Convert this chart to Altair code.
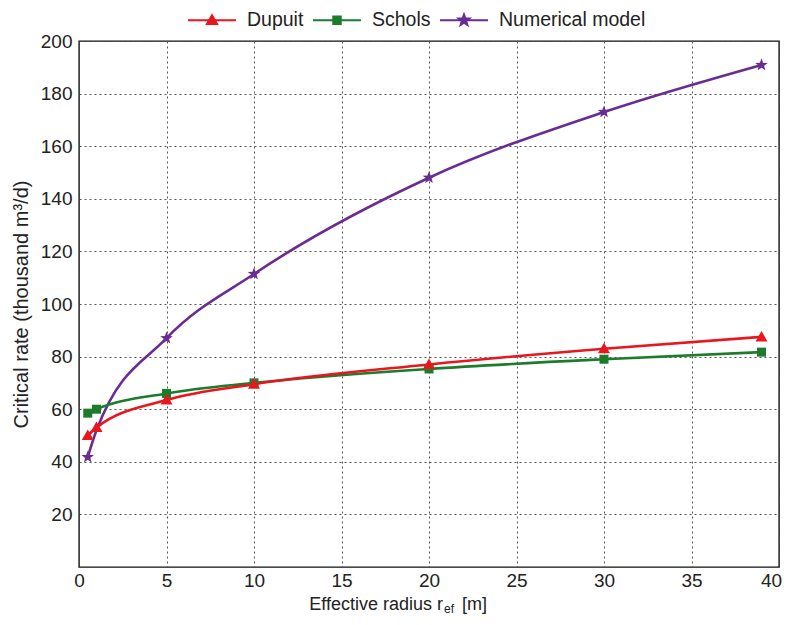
import altair as alt
import pandas as pd
import numpy as np

# ---- data ----
series_names = ["Dupuit", "Schols", "Numerical model"]
radius = [0.5, 1, 5, 10, 20, 30, 39]
dupuit = [50, 53, 63.5, 69.5, 77, 83, 87.5]
schols = [58.5, 60, 66, 70, 75.3, 79, 81.7]
# numerical model: markers at these radii ...
num_radius = [0.5, 5, 10, 20, 30, 39]
numerical = [41.8, 87, 111.4, 148, 173, 190.9]
# ... and the curve also passes through (1, 52) (no marker there)
num_curve_radius = [0.5, 1, 5, 10, 20, 30, 39]
num_curve = [41.8, 52, 87, 111.4, 148, 173, 190.9]
x_ticks = [0, 5, 10, 15, 20, 25, 30, 35, 40]
y_ticks = [20, 40, 60, 80, 100, 120, 140, 160, 180, 200]
colors = ["#e8161d", "#1d7c2c", "#6a2c92"]

line_rows, pt_rows = [], []
for r, v in zip(num_curve_radius, num_curve):
    line_rows.append({"series": "Numerical model", "r": r, "q": v})
for r, v in zip(num_radius, numerical):
    pt_rows.append({"series": "Numerical model", "r": r, "q": v})
for r, v in zip(radius, schols):
    line_rows.append({"series": "Schols", "r": r, "q": v})
    pt_rows.append({"series": "Schols", "r": r, "q": v})
for r, v in zip(radius, dupuit):
    line_rows.append({"series": "Dupuit", "r": r, "q": v})
    pt_rows.append({"series": "Dupuit", "r": r, "q": v})
df_lines = pd.DataFrame(line_rows)
df_pts = pd.DataFrame(pt_rows)


# ---- marker shapes (custom symbol paths) ----
def poly(pts, s=1.0):
    return "M" + "L".join(f"{x * s:.3f},{y * s:.3f}" for x, y in pts) + "Z"


tri_pts = [(0, -1.0), (1.0, 0.75), (-1.0, 0.75)]
sq_pts = [(-0.75, -0.75), (0.75, -0.75), (0.75, 0.75), (-0.75, 0.75)]
star_pts = []
for k in range(10):
    ang = np.deg2rad(-90 + 36 * k)
    rad = 1.1 if k % 2 == 0 else 0.45
    star_pts.append((rad * np.cos(ang), rad * np.sin(ang)))

marker_shapes = [poly(tri_pts), poly(sq_pts), poly(star_pts)]
# legend glyph: a short line with the marker in the middle (unit = 10 px)
legend_shapes = [
    "M-2.4,0H2.4" + poly(tri_pts, 0.5),
    "M-2.4,0H2.4" + poly(sq_pts, 0.5),
    "M-2.4,0H2.4" + poly(star_pts, 0.52),
]

xs = alt.Scale(domain=[0, 40], nice=False)
ys = alt.Scale(domain=[0, 200], nice=False)
cscale = alt.Scale(domain=series_names, range=colors)

x_enc = alt.X("r:Q", scale=xs, axis=alt.Axis(
    values=x_ticks, title=None, grid=True,
    labelOffset={"condition": {"test": "datum.value == 40", "value": -8}, "value": 0},
))
y_enc = alt.Y("q:Q", scale=ys, axis=alt.Axis(values=y_ticks, title="Critical rate (thousand m³/d)", grid=True))

lines = alt.Chart(df_lines).mark_line(strokeWidth=2.6, interpolate="monotone").encode(
    x=x_enc, y=y_enc,
    color=alt.Color("series:N", scale=cscale, legend=None),
    detail="series:N",
)

points = alt.Chart(df_pts).mark_point(filled=True, size=144, opacity=1).encode(
    x=x_enc, y=y_enc,
    color=alt.Color("series:N", scale=cscale, legend=None),
    shape=alt.Shape("series:N", scale=alt.Scale(domain=series_names, range=marker_shapes), legend=None),
)

legend_layer = alt.Chart(df_pts).transform_filter("false").mark_point(filled=True, strokeWidth=2, opacity=1).encode(
    x=x_enc, y=y_enc,
    fill=alt.Fill("series:N", scale=cscale, title=None),
    stroke=alt.Stroke("series:N", scale=cscale, title=None),
    shape=alt.Shape("series:N", scale=alt.Scale(domain=series_names, range=legend_shapes), title=None),
)

title_df = pd.DataFrame({"a": [0]})
t_main = alt.Chart(title_df).mark_text(
    text="Effective radius r", align="right", baseline="alphabetic",
    font="Liberation Sans", fontSize=18, color="#222"
).encode(x=alt.value(364), y=alt.value(569))
t_sub = alt.Chart(title_df).mark_text(
    text="ef", align="left", baseline="alphabetic",
    font="Liberation Sans", fontSize=12, color="#222"
).encode(x=alt.value(365), y=alt.value(572))
t_unit = alt.Chart(title_df).mark_text(
    text="[m]", align="left", baseline="alphabetic",
    font="Liberation Sans", fontSize=18, color="#222"
).encode(x=alt.value(383), y=alt.value(569))

chart = alt.layer(lines, points, legend_layer, t_main, t_sub, t_unit).resolve_scale(
    color="independent", shape="independent", fill="independent", stroke="independent"
).properties(
    width=700, height=526,
    autosize=alt.AutoSizeParams(type="none"),
    padding={"left": 71, "top": 33, "right": 4, "bottom": 50},
).configure_view(
    stroke="#111", strokeWidth=1.4
).configure_axis(
    domain=False, ticks=False, labelFlush=False,
    labelFont="Liberation Sans", labelFontSize=19, labelColor="#222",
    titleFont="Liberation Sans", titleFontSize=20, titleColor="#222", titleFontWeight="normal",
    gridColor="#444", gridDash=[2, 3], gridWidth=1, gridOpacity=0.9,
).configure_axisX(
    labelPadding=4,
).configure_axisY(
    labelPadding=7, titlePadding=9,
).configure_legend(
    orient="none", legendX=122, legendY=-32, direction="horizontal",
    symbolSize=400, labelFont="Liberation Sans", labelFontSize=19.5, labelColor="#222",
    labelOffset=24, columnPadding=5, symbolStrokeWidth=2,
)

chart.save("out.html", embed_options={"renderer": "svg", "actions": False})
